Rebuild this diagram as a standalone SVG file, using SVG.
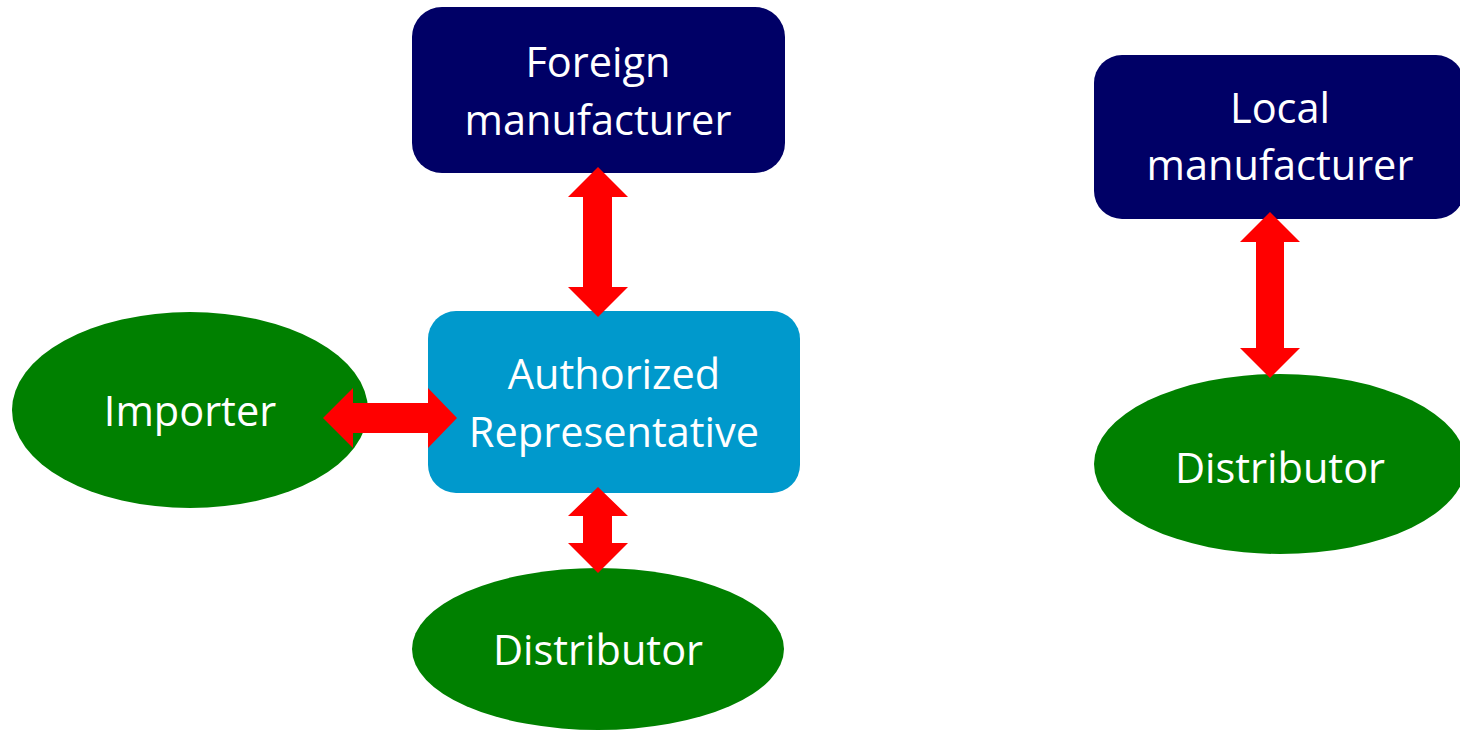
<svg xmlns="http://www.w3.org/2000/svg" width="1460" height="731" viewBox="0 0 1460 731">
<style>
.navy{fill:#000066}
.blue{fill:#0099CC}
.green{fill:#008000}
.arrow{fill:#FF0000}
.lbl{fill:#FFFFFF;font-family:"Open Sans","Liberation Sans",sans-serif;font-size:41.5px;text-anchor:middle}
</style>
<rect width="1460" height="731" fill="#FFFFFF"/>
<g id="foreign-manufacturer">
<rect class="navy" x="412" y="7" width="373" height="166" rx="30" ry="30"/>
<text class="lbl" x="598" y="77">Foreign</text>
<text class="lbl" x="598" y="135">manufacturer</text>
</g>
<g id="authorized-representative">
<rect class="blue" x="428" y="311" width="372" height="182" rx="28" ry="28"/>
<text class="lbl" x="614" y="389">Authorized</text>
<text class="lbl" x="614" y="447">Representative</text>
</g>
<g id="importer">
<ellipse class="green" cx="190" cy="410" rx="178" ry="98"/>
<text class="lbl" x="190" y="426">Importer</text>
</g>
<g id="distributor-1">
<ellipse class="green" cx="598" cy="649" rx="186" ry="81"/>
<text class="lbl" x="598" y="665">Distributor</text>
</g>
<g id="local-manufacturer">
<rect class="navy" x="1094" y="55" width="370" height="164" rx="28" ry="28"/>
<text class="lbl" x="1280" y="123">Local</text>
<text class="lbl" x="1280" y="180">manufacturer</text>
</g>
<g id="distributor-2">
<ellipse class="green" cx="1280" cy="464" rx="186" ry="90"/>
<text class="lbl" x="1280" y="483">Distributor</text>
</g>
<g id="connectors">
<polygon class="arrow" points="598,167 628,197 612,197 612,287 628,287 598,317 568,287 583,287 583,197 568,197"/>
<polygon class="arrow" points="323,418 353,388 353,403 428,403 428,388 457,418 428,448 428,433 353,433 353,448"/>
<polygon class="arrow" points="598,487 628,516 612,516 612,543 628,543 598,573 568,543 583,543 583,516 568,516"/>
<polygon class="arrow" points="1270,212 1300,242 1284,242 1284,348 1300,348 1270,378 1240,348 1256,348 1256,242 1240,242"/>
</g>
</svg>
